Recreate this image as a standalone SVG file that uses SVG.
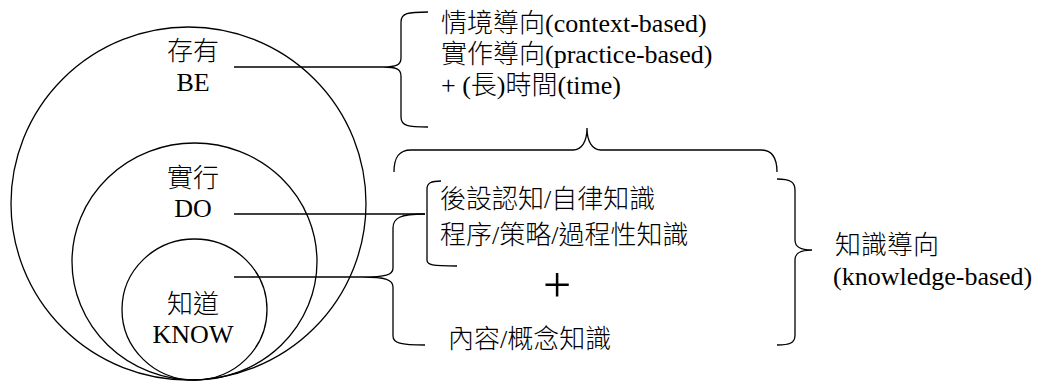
<svg xmlns="http://www.w3.org/2000/svg" width="1040" height="382" viewBox="0 0 1040 382">
<style>
.ln{fill:none;stroke:#000;stroke-width:1.3}
.t{font-family:"Liberation Serif","Noto Sans CJK TC",serif;font-weight:300;font-size:26px;fill:#000}
.c{text-anchor:middle}
</style>
<rect width="1040" height="382" fill="#fff"/>
<g id="circle-be"><ellipse class="ln" cx="188.5" cy="203.5" rx="177.5" ry="176.5"/>
<text class="t c" x="193" y="60">存有</text><text class="t c" x="193" y="91">BE</text></g>
<g id="circle-do"><ellipse class="ln" cx="194.5" cy="261.5" rx="122.5" ry="118.5"/>
<text class="t c" x="193" y="187">實行</text><text class="t c" x="193" y="217">DO</text></g>
<g id="circle-know"><ellipse class="ln" cx="194.5" cy="309.5" rx="72.5" ry="70.5"/>
<text class="t c" x="193" y="313">知道</text><text class="t c" x="193" y="343">KNOW</text></g>
<g id="context-block">
<text class="t" x="441" y="32">情境導向(context-based)</text>
<text class="t" x="441" y="63">實作導向(practice-based)</text>
<text class="t" x="441" y="94">+ (長)時間(time)</text></g>
<g id="knowledge-inner">
<text class="t" x="440" y="208">後設認知/自律知識</text>
<text class="t" x="440" y="244">程序/策略/過程性知識</text>
<text class="t c" x="557" y="302" style="font-size:50px">+</text>
<text class="t" x="448" y="348">內容/概念知識</text></g>
<g id="knowledge-label">
<text class="t" x="835" y="254">知識導向</text>
<text class="t" x="833" y="285">(knowledge-based)</text></g>
<g id="connectors">
<path class="ln" d="M234,67 H383"/>
<path class="ln" d="M234,214 H425"/>
<path class="ln" d="M234,277 H362"/>
<path class="ln" d="M428,12 C408,12 401,13 401,22 V58 C401,65 396,67 383,67 C396,67 401,69 401,76 V117 C401,126 408,127 428,127"/>
<path class="ln" d="M394,172 C394,157 399,150 411,150 H573 C582,150 587,141 587,128 C587,141 592,150 601,150 H761 C772,150 777,157 777,172"/>
<path class="ln" d="M441,181 C431,181 427,183 427,189 V260 C427,265 432,266 457,266"/>
<path class="ln" d="M425,214 C400,214 393,218 393,228 V268 C393,275 386,277 362,277 C386,277 393,280 393,287 V336 C393,343 400,345 425,345"/>
<path class="ln" d="M777,179 C790,179 795,182 795,190 V240 C795,247 800,250 812,250 C800,250 795,253 795,260 V335 C795,343 790,345 777,345"/>
</g>
</svg>
